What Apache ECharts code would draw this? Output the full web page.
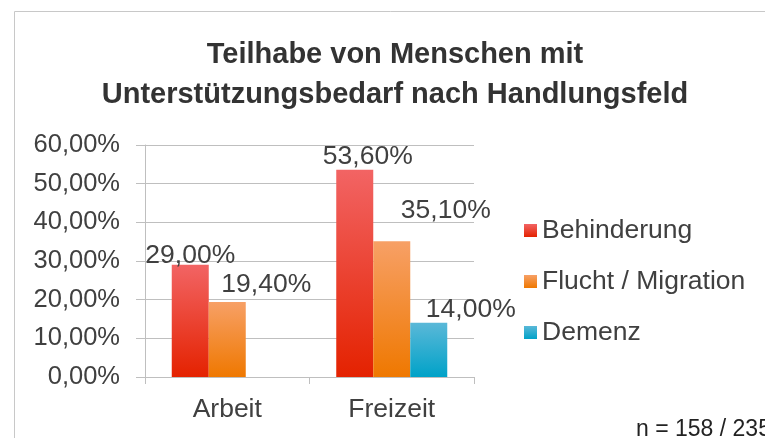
<!DOCTYPE html>
<html>
<head>
<meta charset="utf-8">
<script src="https://cdn.jsdelivr.net/npm/echarts@6/dist/echarts.min.js"></script>
<style>
html, body { margin: 0; padding: 0; background: #fff; }
#chart { width: 765px; height: 438px; }
</style>
</head>
<body>
<div id="chart"></div>
<script>
var categories = ['Arbeit', 'Freizeit'];
var seriesNames = ['Behinderung', 'Flucht / Migration', 'Demenz'];
var behinderung = [29.0, 53.6];
var flucht = [19.4, 35.1];
var demenz = [null, 14.0];
var yTicks = [0, 10, 20, 30, 40, 50, 60];

// label shifts (px) to mimic the hand-placed Excel labels
var labelShift = [
	[[0, 4], [13, 0]],
	[[39, -4], [54, -17]],
	[[0, 0], [42, 0]]
];

var font = 'Liberation Sans, Arial, sans-serif';
var textColor = '#404040';
var lineColor = '#bfbfbf';

function grad(top, bottom) {
	return new echarts.graphic.LinearGradient(0, 0, 0, 1, [
		{offset: 0, color: top},
		{offset: 1, color: bottom}
	]);
}
var colors = [
	grad('#f26464', '#e42200'),
	grad('#f7a066', '#ef7800'),
	grad('#5ab8d8', '#00a2c8')
];

function fmt(v) {
	return v.toFixed(2).replace('.', ',') + '%';
}

function buildData(values, s) {
	return values.map(function (v, i) {
		return {value: v, label: {offset: labelShift[s][i]}};
	});
}

var chart = echarts.init(document.getElementById('chart'));
var option = {
	animation: false,
	title: {
		text: 'Teilhabe von Menschen mit\nUnterstützungsbedarf nach Handlungsfeld',
		left: 395,
		top: 30,
		textAlign: 'center',
		padding: [5, 0, 5, 0],
		textStyle: {
			fontFamily: font,
			fontWeight: 'bold',
			fontSize: 29,
			lineHeight: 40,
			color: '#333'
		}
	},
	legend: {
		orient: 'vertical',
		left: 519,
		top: 212,
		itemWidth: 13,
		itemHeight: 13,
		itemGap: 24,
		icon: 'rect',
		data: seriesNames,
		textStyle: {fontFamily: font, fontSize: 26.5, color: textColor}
	},
	grid: {left: 145, right: 291, top: 145, bottom: 61},
	xAxis: {
		type: 'category',
		data: categories,
		axisLine: {lineStyle: {color: lineColor, width: 1}},
		axisTick: {show: true, length: 7, lineStyle: {color: lineColor}},
		axisLabel: {margin: 19, fontFamily: font, fontSize: 26.5, color: textColor}
	},
	yAxis: {
		type: 'value',
		min: yTicks[0],
		max: yTicks[yTicks.length - 1],
		interval: yTicks[1] - yTicks[0],
		axisLine: {show: true, lineStyle: {color: lineColor, width: 1}},
		axisTick: {show: true, length: 9, lineStyle: {color: lineColor}},
		splitLine: {lineStyle: {color: lineColor, width: 1}},
		axisLabel: {margin: 25, fontFamily: font, fontSize: 25.5, color: textColor, formatter: fmt}
	},
	series: [behinderung, flucht, demenz].map(function (vals, s) {
		return {
			name: seriesNames[s],
			type: 'bar',
			barWidth: 37,
			barGap: 0,
			itemStyle: {color: colors[s]},
			label: {
				show: true,
				position: 'top',
				distance: 0,
				fontFamily: font,
				fontSize: 26.5,
				color: textColor,
				formatter: function (p) { return fmt(p.value); }
			},
			data: buildData(vals, s)
		};
	}),
	graphic: [
		{
			type: 'rect',
			silent: true,
			shape: {x: 14.5, y: 11.5, width: 900, height: 600},
			style: {fill: 'none', stroke: '#c8c8c8', lineWidth: 1}
		},
		{
			type: 'text',
			left: 636,
			top: 418,
			style: {text: 'n = 158 / 235', font: '23px ' + font, fill: '#222'}
		}
	]
};
chart.setOption(option);
window.addEventListener('resize', chart.resize);
</script>
</body>
</html>
